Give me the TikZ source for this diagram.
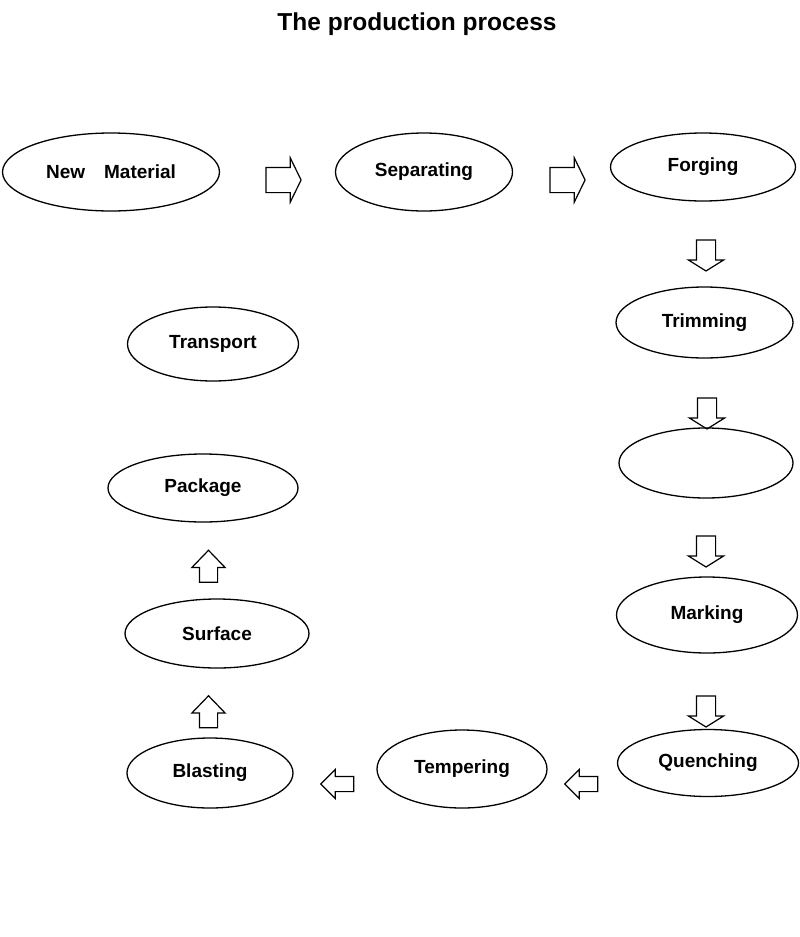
\documentclass[tikz,border=0pt]{standalone}
\usepackage{fontspec}
\setmainfont{Liberation Sans}
\usetikzlibrary{shapes.geometric,shapes.arrows}

\tikzset{
	stage/.style={ellipse, draw, line width=1.3pt, inner sep=0pt, font=\bfseries\fontsize{19}{22}\selectfont},
	blockarr/.style={single arrow, draw, line width=1.2pt, inner xsep=0pt},
	rightarr/.style={blockarr, minimum height=35pt, inner ysep=12pt, single arrow head extend=9.5pt, single arrow tip angle=128},
	downarr/.style={blockarr, rotate=-90, minimum height=31pt, inner ysep=9pt, single arrow head extend=8pt, single arrow tip angle=116},
	leftarr/.style={blockarr, rotate=180, minimum height=33pt, inner ysep=7pt, single arrow head extend=7pt, single arrow tip angle=90},
	uparr/.style={blockarr, rotate=90, minimum height=32pt, inner ysep=8.5pt, single arrow head extend=7.5pt, single arrow tip angle=88}
}

\begin{document}
\begin{tikzpicture}[x=1pt,y=-1pt]
\useasboundingbox (0,0) rectangle (800,937);
\node[font=\bfseries\fontsize{24.5}{28}\selectfont] (title) at (417,24.5) {The production process};

% top row
\node[stage, minimum width=217pt, minimum height=78pt] (newmat) at (111,172) {New\hspace{19pt}Material};
\node[stage, minimum width=177pt, minimum height=78pt] (separating) at (424,172) {Separating};
\node[stage, minimum width=185pt, minimum height=68pt] (forging) at (703,167) {Forging};

% right column
\node[stage, minimum width=177pt, minimum height=71pt] (trimming) at (704.5,322.5) {Trimming};
\node[stage, minimum width=174pt, minimum height=70pt] (hid) at (706,463) {};
\node[stage, minimum width=181pt, minimum height=76pt] (marking) at (707,615) {Marking};
\node[stage, minimum width=181pt, minimum height=67pt] (quenching) at (708,763) {Quenching};

% bottom row and left column
\node[stage, minimum width=170pt, minimum height=78pt] (tempering) at (462,769) {Tempering};
\node[stage, minimum width=166pt, minimum height=70pt] (blasting) at (210,773) {Blasting};
\node[stage, minimum width=184pt, minimum height=69pt] (surface) at (217,633.5) {Surface};
\node[stage, minimum width=190pt, minimum height=68pt] (package) at (203,488) {Package};
\node[stage, minimum width=171pt, minimum height=74pt] (transport) at (213,344) {Transport};

% arrows
\node[rightarr] (a1) at (280.5,180) {};
\node[rightarr] (a2) at (564.5,180) {};
\node[downarr] (a3) at (706,252.5) {};
\node[downarr] (a4) at (707,410.5) {};
\node[downarr] (a5) at (706,548.5) {};
\node[downarr] (a6) at (706,708.5) {};
\node[leftarr] (a7) at (585,784) {};
\node[leftarr] (a8) at (341,784) {};
\node[uparr] (a9) at (208.5,716.5) {};
\node[uparr] (a10) at (208.5,571) {};
\end{tikzpicture}
\end{document}
